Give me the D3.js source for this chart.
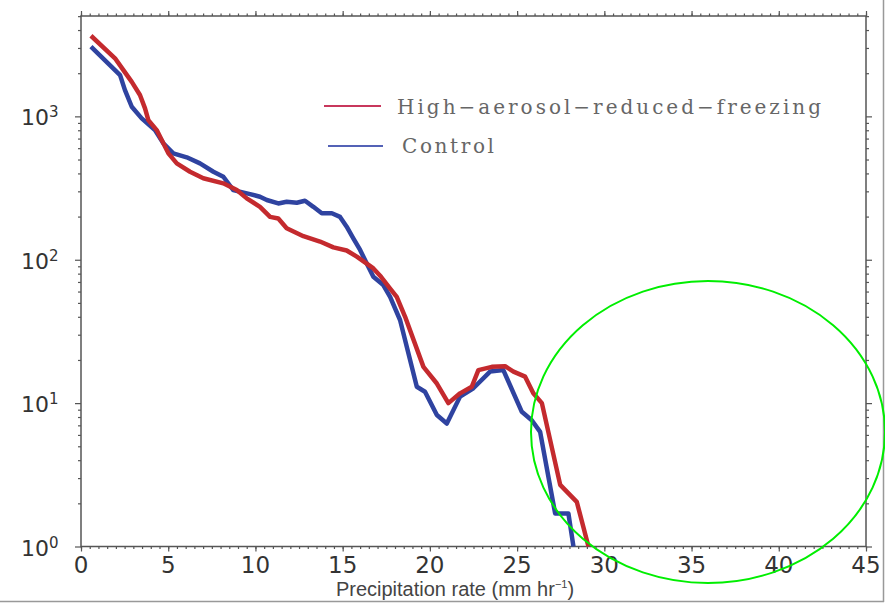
<!DOCTYPE html>
<html>
<head>
<meta charset="utf-8">
<script src="https://cdn.jsdelivr.net/npm/d3@7"></script>
<style>
  html, body { margin: 0; padding: 0; background: #fff; }
  svg { display: block; }
</style>
</head>
<body>
<div id="chart"></div>
<script>
// valeurs (taux de précipitation, mm/h -> fréquence)
const redX = [0.57, 1.95, 2.43, 2.91, 3.38, 3.67, 3.86, 4.34, 4.72, 5.01, 5.49, 6.25, 7.01, 8.16, 8.93, 9.5, 10.26, 10.84, 11.31, 11.79, 12.75, 13.7, 14.47, 15.23, 15.81, 16.38, 16.76, 17.2, 17.72, 18.1, 18.58, 19.63, 20.4, 21.06, 21.73, 22.4, 22.78, 23.55, 24.31, 24.79, 25.46, 25.93, 26.42, 27.47, 28.42, 29.09];
const redY = [3650, 2540, 2100, 1740, 1410, 1137, 942, 802, 649, 552, 470, 411, 370, 341, 306, 268, 234, 199, 194, 166, 146, 134, 122, 116, 105, 94, 87, 76, 63, 55, 40, 17.9, 13.7, 10, 11.7, 13.0, 17, 17.9, 18.1, 16.6, 15.3, 11.7, 10, 2.69, 2.05, 1.0];

const blueX = [0.57, 2.24, 2.52, 2.91, 3.48, 4.24, 4.72, 5.29, 6.06, 6.82, 7.59, 8.16, 8.73, 9.69, 10.26, 10.65, 11.31, 11.79, 12.37, 12.84, 13.32, 13.8, 14.38, 14.85, 15.23, 15.61, 16.0, 16.38, 16.76, 17.33, 17.72, 18.29, 19.25, 19.72, 20.4, 20.97, 21.73, 22.49, 23.45, 24.21, 25.27, 25.84, 26.32, 27.18, 27.94, 28.23];
const blueY = [3060, 1940, 1525, 1167, 968, 802, 649, 552, 518, 470, 411, 379, 306, 287, 275, 261, 247, 254, 250, 258, 234, 211, 211, 199, 170, 141, 117, 94, 76, 66.6, 55, 38, 13, 12, 8.26, 7.2, 11.1, 12.7, 16.6, 17, 8.7, 7.6, 6.3, 1.7, 1.7, 1.0];

const seriesNames = ['High\u2212aerosol\u2212reduced\u2212freezing', 'Control'];
const xTicks = [0, 5, 10, 15, 20, 25, 30, 35, 40, 45];
const yTicks = [1, 10, 100, 1000];
const yExp = ['0', '1', '2', '3'];

const width = 885, height = 606;
const svg = d3.select('#chart').append('svg')
    .attr('width', width)
    .attr('height', height);

const x = d3.scaleLinear().domain([0, 45]).range([81, 866]);
const y = d3.scaleLog().domain([1, Math.pow(10, 3.7)]).range([546.5, 16]);

const axisColor = '#555';

// cadre
svg.append('rect')
    .attr('x', x(0)).attr('y', y.range()[1])
    .attr('width', x(45) - x(0)).attr('height', y.range()[0] - y.range()[1])
    .attr('fill', 'none').attr('stroke', axisColor).attr('stroke-width', 1.5);

// bordure de l'image
svg.append('line').attr('x1', 0).attr('x2', 884).attr('y1', 601.5).attr('y2', 601.5)
    .attr('stroke', '#999').attr('stroke-width', 1.5);
svg.append('line').attr('x1', 883.5).attr('x2', 883.5).attr('y1', 0).attr('y2', 602)
    .attr('stroke', '#999').attr('stroke-width', 1.5);

// graduations mineures
const xMinor = d3.range(0, 45.01, 0.5);
const yMinor = [];
for (let d = 1; d <= 1000; d *= 10) {
    for (let k = 2; k <= 9; k++) {
        if (d * k <= y.domain()[1]) yMinor.push(d * k);
    }
}

function styleAxis(g) {
    g.select('.domain').remove();
    g.selectAll('.tick line').attr('stroke', axisColor).attr('stroke-width', 1.2);
    g.selectAll('.tick text').remove();
}

svg.append('g').attr('transform', `translate(0,${y(1)})`)
    .call(d3.axisBottom(x).tickValues(xMinor).tickSize(2.5)).call(styleAxis);
svg.append('g').attr('transform', `translate(0,${y(1)})`)
    .call(d3.axisBottom(x).tickValues(xTicks).tickSize(5)).call(styleAxis);
svg.append('g').attr('transform', `translate(0,${y.range()[1]})`)
    .call(d3.axisTop(x).tickValues(xMinor).tickSize(2.5)).call(styleAxis);
svg.append('g').attr('transform', `translate(0,${y.range()[1]})`)
    .call(d3.axisTop(x).tickValues(xTicks).tickSize(5)).call(styleAxis);

svg.append('g').attr('transform', `translate(${x(0)},0)`)
    .call(d3.axisLeft(y).tickValues(yMinor).tickSize(3)).call(styleAxis);
svg.append('g').attr('transform', `translate(${x(0)},0)`)
    .call(d3.axisLeft(y).tickValues(yTicks).tickSize(6)).call(styleAxis);
svg.append('g').attr('transform', `translate(${x(45)},0)`)
    .call(d3.axisRight(y).tickValues(yMinor).tickSize(3)).call(styleAxis);
svg.append('g').attr('transform', `translate(${x(45)},0)`)
    .call(d3.axisRight(y).tickValues(yTicks).tickSize(6)).call(styleAxis);

// étiquettes des axes
svg.append('g').selectAll('text')
    .data(xTicks)
    .enter()
    .append('text')
    .attr('x', d => x(d))
    .attr('y', 573)
    .attr('text-anchor', 'middle')
    .attr('font-family', 'DejaVu Sans, sans-serif')
    .attr('font-size', 23)
    .attr('fill', '#333')
    .text(d => d);

const yLab = svg.append('g').selectAll('text')
    .data(yTicks)
    .enter()
    .append('text')
    .attr('x', 21)
    .attr('y', d => y(d) + 9)
    .attr('font-family', 'DejaVu Sans, sans-serif')
    .attr('font-size', 22)
    .attr('fill', '#333');
yLab.append('tspan').text('10');
yLab.append('tspan')
    .attr('font-size', 15)
    .attr('dy', -8)
    .text((d, i) => yExp[i]);

const xTitle = svg.append('text')
    .attr('x', 455)
    .attr('y', 596)
    .attr('text-anchor', 'middle')
    .attr('font-family', 'Liberation Sans Narrow, Liberation Sans, sans-serif')
    .attr('font-size', 20)
    .attr('fill', '#444');
xTitle.append('tspan').text('Precipitation rate (mm hr');
xTitle.append('tspan').attr('font-size', 11).attr('dy', -8).text('\u22121');
xTitle.append('tspan').attr('dy', 8).text(')');

// courbes
const line = d3.line()
    .x(d => x(d[0]))
    .y(d => y(d[1]));

const redData = d3.zip(redX, redY);
const blueData = d3.zip(blueX, blueY);

svg.append('path')
    .datum(blueData)
    .attr('fill', 'none')
    .attr('stroke', '#2f43a0')
    .attr('stroke-width', 4.5)
    .attr('stroke-linejoin', 'round')
    .attr('d', line);

svg.append('path')
    .datum(redData)
    .attr('fill', 'none')
    .attr('stroke', '#c42a2e')
    .attr('stroke-width', 4.5)
    .attr('stroke-linejoin', 'round')
    .attr('d', line);

// légende
const legendItems = [
    { name: seriesNames[0], color: '#c8375c', x1: 324, x2: 381, ly: 106, tx: 397, ty: 114, len: 424 },
    { name: seriesNames[1], color: '#5462b6', x1: 328, x2: 383, ly: 146, tx: 402, ty: 153, len: 92 }
];
const legend = svg.append('g');
legend.selectAll('line')
    .data(legendItems)
    .enter()
    .append('line')
    .attr('x1', d => d.x1).attr('x2', d => d.x2)
    .attr('y1', d => d.ly).attr('y2', d => d.ly)
    .attr('stroke', d => d.color)
    .attr('stroke-width', 2);
legend.selectAll('text')
    .data(legendItems)
    .enter()
    .append('text')
    .attr('x', d => d.tx)
    .attr('y', d => d.ty)
    .attr('font-family', 'DejaVu Serif, serif')
    .attr('font-size', 20)
    .attr('fill', '#666')
    .attr('textLength', d => d.len)
    .attr('lengthAdjust', 'spacing')
    .text(d => d.name);

// ellipse verte d'annotation
svg.append('ellipse')
    .attr('cx', 708).attr('cy', 432)
    .attr('rx', 177).attr('ry', 151)
    .attr('fill', 'none')
    .attr('stroke', '#00ee00')
    .attr('stroke-width', 2);
</script>
</body>
</html>
